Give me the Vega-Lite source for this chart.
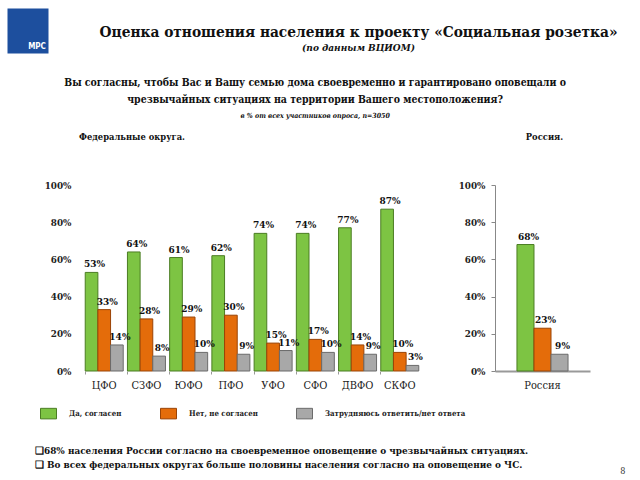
{
  "$schema": "https://vega.github.io/schema/vega-lite/v6.json",
  "background": "white",
  "padding": {"left": 7, "top": 8, "right": 5, "bottom": 5},
  "autosize": {"type": "pad"},
  "config": {
    "font": "DejaVu Serif Condensed, DejaVu Serif, serif",
    "view": {"stroke": null},
    "legend": {
      "orient": "none",
      "legendX": -41,
      "legendY": 397,
      "direction": "horizontal",
      "columns": 3,
      "columnPadding": 36,
      "title": null,
      "symbolType": "M-1,-0.66H1V0.66H-1Z",
      "symbolSize": 256,
      "symbolStrokeWidth": 1,
      "labelFontSize": 7.8,
      "labelFontWeight": "bold",
      "labelColor": "#222",
      "labelOffset": 12
    }
  },
  "datasets": {
    "fed": [
      {"okrug": "ЦФО", "answer": "Да, согласен", "value": 0.53},
      {"okrug": "ЦФО", "answer": "Нет, не согласен", "value": 0.33},
      {"okrug": "ЦФО", "answer": "Затрудняюсь ответить/нет ответа", "value": 0.14},
      {"okrug": "СЗФО", "answer": "Да, согласен", "value": 0.64},
      {"okrug": "СЗФО", "answer": "Нет, не согласен", "value": 0.28},
      {"okrug": "СЗФО", "answer": "Затрудняюсь ответить/нет ответа", "value": 0.08},
      {"okrug": "ЮФО", "answer": "Да, согласен", "value": 0.61},
      {"okrug": "ЮФО", "answer": "Нет, не согласен", "value": 0.29},
      {"okrug": "ЮФО", "answer": "Затрудняюсь ответить/нет ответа", "value": 0.10},
      {"okrug": "ПФО", "answer": "Да, согласен", "value": 0.62},
      {"okrug": "ПФО", "answer": "Нет, не согласен", "value": 0.30},
      {"okrug": "ПФО", "answer": "Затрудняюсь ответить/нет ответа", "value": 0.09},
      {"okrug": "УФО", "answer": "Да, согласен", "value": 0.74},
      {"okrug": "УФО", "answer": "Нет, не согласен", "value": 0.15},
      {"okrug": "УФО", "answer": "Затрудняюсь ответить/нет ответа", "value": 0.11},
      {"okrug": "СФО", "answer": "Да, согласен", "value": 0.74},
      {"okrug": "СФО", "answer": "Нет, не согласен", "value": 0.17},
      {"okrug": "СФО", "answer": "Затрудняюсь ответить/нет ответа", "value": 0.10},
      {"okrug": "ДВФО", "answer": "Да, согласен", "value": 0.77},
      {"okrug": "ДВФО", "answer": "Нет, не согласен", "value": 0.14},
      {"okrug": "ДВФО", "answer": "Затрудняюсь ответить/нет ответа", "value": 0.09},
      {"okrug": "СКФО", "answer": "Да, согласен", "value": 0.87},
      {"okrug": "СКФО", "answer": "Нет, не согласен", "value": 0.10},
      {"okrug": "СКФО", "answer": "Затрудняюсь ответить/нет ответа", "value": 0.03}
    ],
    "rus": [
      {"region": "Россия", "answer": "Да, согласен", "value": 0.68},
      {"region": "Россия", "answer": "Нет, не согласен", "value": 0.23},
      {"region": "Россия", "answer": "Затрудняюсь ответить/нет ответа", "value": 0.09}
    ],
    "logo": [{"t": "МРС"}]
  },
  "title": {
    "text": [
      "❑68% населения России согласно на своевременное оповещение о чрезвычайных ситуациях.",
      "❑ Во всех федеральных округах больше половины населения согласно на оповещение о ЧС."
    ],
    "orient": "bottom",
    "anchor": "start",
    "dx": 28,
    "offset": -29,
    "fontSize": 9.9,
    "fontWeight": "bold",
    "lineHeight": 14,
    "color": "#111"
  },
  "concat": [
    {
      "width": 41,
      "height": 45,
      "data": {"name": "logo"},
      "title": {
        "text": "Оценка отношения населения к проекту «Социальная розетка»",
        "subtitle": "(по данным ВЦИОМ)",
        "anchor": "middle",
        "frame": "group",
        "dx": 257,
        "dy": 49,
        "fontSize": 15.3,
        "fontWeight": "bold",
        "color": "#111",
        "subtitleFontSize": 10,
        "subtitleFontStyle": "italic",
        "subtitleFontWeight": "bold",
        "subtitleColor": "#111",
        "subtitlePadding": 3
      },
      "mark": {"type": "point", "opacity": 0},
      "encoding": {
        "y": {
          "field": "t", "type": "nominal",
          "axis": {
            "title": "МРС", "titleAngle": 0, "titleX": 9, "titleY": 38, "titleAlign": "center", "titleBaseline": "middle",
            "titleColor": "white", "titleFont": "DejaVu Sans Condensed", "titleFontSize": 8, "titleFontWeight": "bold",
            "offset": 53.5, "domain": true, "domainColor": "#1d4f9e", "domainWidth": 41, "ticks": false,
            "labels": true, "labelExpr": "'·'", "labelAlign": "left", "labelPadding": 20.5, "labelColor": "#1d4f9e", "labelFontSize": 6
          }
        }
      }
    },
    {
      "title": {
        "text": [
          "Вы согласны, чтобы Вас и Вашу семью дома своевременно и гарантировано оповещали о",
          "чрезвычайных ситуациях на территории Вашего местоположения?"
        ],
        "subtitle": "в % от всех участников опроса, n=3050",
        "anchor": "middle",
        "dx": -19.5,
        "dy": 4,
        "offset": 18,
        "fontSize": 10.45,
        "fontWeight": "bold",
        "lineHeight": 17,
        "color": "#111",
        "subtitleFontSize": 7,
        "subtitleFontStyle": "italic",
        "subtitleFontWeight": "bold",
        "subtitleColor": "#111",
        "subtitlePadding": 6
      },
      "spacing": 35,
      "resolve": {"scale": {"xOffset": "independent"}},
      "hconcat": [
        {
          "width": 342,
          "height": 186,
          "data": {"name": "fed"},
          "title": {"text": "Федеральные округа.", "anchor": "start", "frame": "group", "dx": -2, "offset": 38, "fontSize": 9.3, "fontWeight": "bold", "color": "#111"},
          "encoding": {
            "x": {
              "field": "okrug", "type": "nominal",
              "sort": ["ЦФО", "СЗФО", "ЮФО", "ПФО", "УФО", "СФО", "ДВФО", "СКФО"],
              "scale": {"paddingInner": 0.1, "paddingOuter": 0.1},
              "axis": {"title": null, "labelAngle": 0, "domain": false, "ticks": true, "tickSize": 3, "tickColor": "#999", "bandPosition": 0, "labelFontSize": 11, "labelColor": "#222", "labelPadding": 5}
            },
            "xOffset": {"field": "answer", "sort": ["Да, согласен", "Нет, не согласен", "Затрудняюсь ответить/нет ответа"]},
            "y": {
              "field": "value", "type": "quantitative",
              "scale": {"domain": [0, 1]},
              "axis": {"title": null, "values": [0, 0.2, 0.4, 0.6, 0.8, 1], "format": ".0%", "domain": false, "ticks": false, "grid": false, "labelFontWeight": "bold", "labelFontSize": 9.8, "labelColor": "#222", "labelPadding": 10}
            }
          },
          "layer": [
            {
              "mark": {"type": "bar", "strokeWidth": 1},
              "encoding": {
                "fill": {"field": "answer", "sort": ["Да, согласен", "Нет, не согласен", "Затрудняюсь ответить/нет ответа"], "scale": {"domain": ["Да, согласен", "Нет, не согласен", "Затрудняюсь ответить/нет ответа"], "range": ["#7dc443", "#e46c0a", "#a8a8a8"]}},
                "stroke": {"field": "answer", "sort": ["Да, согласен", "Нет, не согласен", "Затрудняюсь ответить/нет ответа"], "scale": {"domain": ["Да, согласен", "Нет, не согласен", "Затрудняюсь ответить/нет ответа"], "range": ["#4b7d23", "#9a4406", "#6b6b6b"]}}
              }
            },
            {
              "mark": {"type": "text", "baseline": "bottom", "dy": -3, "dx": 3, "fontSize": 10, "fontWeight": "bold", "color": "#111"},
              "encoding": {"text": {"field": "value", "type": "quantitative", "format": ".0%"}}
            }
          ]
        },
        {
          "width": 95,
          "height": 186,
          "data": {"name": "rus"},
          "title": {"text": "Россия.", "anchor": "middle", "frame": "group", "dx": 2, "offset": 38, "fontSize": 9.3, "fontWeight": "bold", "color": "#111"},
          "encoding": {
            "x": {
              "field": "region", "type": "nominal",
              "scale": {"paddingInner": 0, "paddingOuter": 0.43},
              "axis": {"title": "8", "titleAnchor": "end", "titleX": 130, "titleY": 95, "titleFontSize": 9, "titleFontWeight": "normal", "titleColor": "#333", "labelAngle": 0, "domain": true, "domainColor": "#999", "domainWidth": 2, "ticks": false, "labelFontSize": 11, "labelColor": "#222", "labelPadding": 8}
            },
            "xOffset": {"field": "answer", "sort": ["Да, согласен", "Нет, не согласен", "Затрудняюсь ответить/нет ответа"]},
            "y": {
              "field": "value", "type": "quantitative",
              "scale": {"domain": [0, 1]},
              "axis": {"title": null, "values": [0, 0.2, 0.4, 0.6, 0.8, 1], "format": ".0%", "domain": true, "domainColor": "#888", "ticks": true, "tickSize": 4, "tickColor": "#888", "grid": false, "labelFontWeight": "bold", "labelFontSize": 9.8, "labelColor": "#222", "labelPadding": 6}
            }
          },
          "layer": [
            {
              "mark": {"type": "bar", "strokeWidth": 1},
              "encoding": {
                "fill": {"field": "answer", "sort": ["Да, согласен", "Нет, не согласен", "Затрудняюсь ответить/нет ответа"], "scale": {"domain": ["Да, согласен", "Нет, не согласен", "Затрудняюсь ответить/нет ответа"], "range": ["#7dc443", "#e46c0a", "#a8a8a8"]}},
                "stroke": {"field": "answer", "sort": ["Да, согласен", "Нет, не согласен", "Затрудняюсь ответить/нет ответа"], "scale": {"domain": ["Да, согласен", "Нет, не согласен", "Затрудняюсь ответить/нет ответа"], "range": ["#4b7d23", "#9a4406", "#6b6b6b"]}}
              }
            },
            {
              "mark": {"type": "text", "baseline": "bottom", "dy": -3, "dx": 3, "fontSize": 10, "fontWeight": "bold", "color": "#111"},
              "encoding": {"text": {"field": "value", "type": "quantitative", "format": ".0%"}}
            }
          ]
        }
      ]
    }
  ],
  "columns": 1,
  "spacing": 25
}
